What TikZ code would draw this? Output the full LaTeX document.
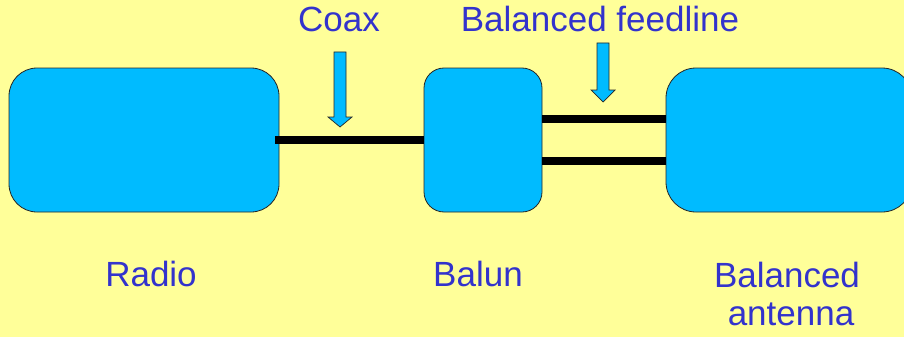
\documentclass[tikz,border=0pt]{standalone}
\usepackage{fontspec}
\setmainfont{Liberation Sans}
\definecolor{bgyellow}{RGB}{255,255,153}
\definecolor{boxblue}{RGB}{0,187,255}
\definecolor{labelblue}{RGB}{51,51,204}
\begin{document}
\begin{tikzpicture}[x=1pt,y=-1pt,
  block/.style={draw=black!85, line width=0.8pt, fill=boxblue, inner sep=0pt},
  wire/.style={line width=8pt, black},
  label/.style={text=labelblue, font=\fontsize{35}{38}\selectfont, inner sep=0pt, anchor=base},
  blockarrow/.style={draw=black!85, line width=0.7pt, fill=boxblue, line join=miter}]
  % page and background
  \useasboundingbox (0,0) rectangle (904,337);
  \clip (0,0) rectangle (904,337);
  \fill[bgyellow] (0,0) rectangle (904,337);

  % the three blocks
  \node[block, rounded corners=28pt, minimum width=270pt, minimum height=144pt] (radio) at (144,140) {};
  \node[block, rounded corners=20pt, minimum width=118pt, minimum height=144pt] (balun) at (483,140) {};
  \node[block, rounded corners=30pt, minimum width=246pt, minimum height=144pt] (antenna) at (789,140) {};

  % coax between radio and balun
  \draw[wire] ([xshift=-4pt]radio.east) -- (balun.west);
  % two-wire balanced feedline
  \draw[wire] (balun.east |- 0,119) -- (antenna.west |- 0,119);
  \draw[wire] (balun.east |- 0,161) -- (antenna.west |- 0,161);

  % pointer arrows
  \draw[blockarrow] (334,52) -- (346,52) -- (346,117) -- (352,117) -- (340,127)
        -- (328,117) -- (334,117) -- cycle;
  \draw[blockarrow] (597,43) -- (609,43) -- (609,90) -- (615,90) -- (603,102)
        -- (591,90) -- (597,90) -- cycle;

  % captions
  \node[label] (coaxlbl) at (339,32) {Coax};
  \node[label] (feedlbl) at (600,32) {Balanced feedline};
  \node[label] (radiolbl) at (151,286) {Radio};
  \node[label] (balunlbl) at (478,286) {Balun};
  \node[label] (antlbl1) at (787,287) {Balanced};
  \node[label] (antlbl2) at (791,325) {antenna};
\end{tikzpicture}
\end{document}
